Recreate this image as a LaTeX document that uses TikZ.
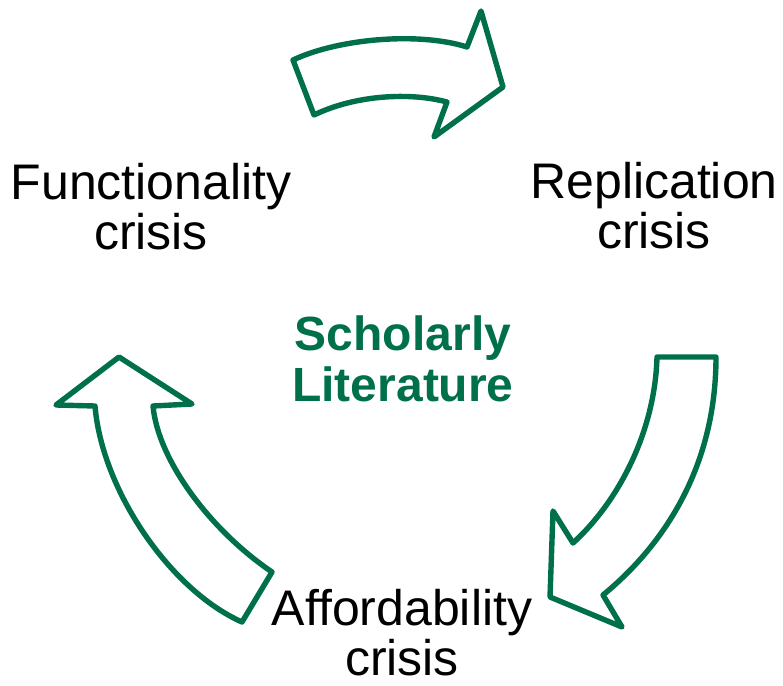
\documentclass[tikz,border=0pt]{standalone}
\usepackage{fontspec}
\setmainfont{Liberation Sans}
\definecolor{litgreen}{RGB}{0,112,74}
\begin{document}
\begin{tikzpicture}[x=1bp,y=-1bp,
    crisis/.style={align=center,anchor=base,inner sep=0pt,
      font=\fontsize{50bp}{50bp}\selectfont},
    core/.style={crisis,text=litgreen,
      font=\fontsize{48bp}{51bp}\selectfont\bfseries},
    cyclearrow/.style={draw=litgreen,line width=5.4bp,line join=round,fill=white}]
      \useasboundingbox (0,0) rectangle (783,686);
      \node[crisis] (functionality) at (151,249) {Functionality\\crisis};
      \node[crisis] (replication) at (654,248) {Replication\\crisis};
      \node[crisis] (affordability) at (402,675) {Affordability\\crisis};
      \node[core] (literature) at (403,401) {Scholarly\\Literature};
      \begin{scope}[cyclearrow]
        \draw (293,60) .. controls (340,38) and (420,32) .. (467,47)
          -- (481,11) -- (503,87) -- (434,137) -- (447,102)
          .. controls (410,92) and (355,95) .. (314,115) -- cycle;
        \draw (657,357) -- (716,357)
          .. controls (716,460) and (670,540) .. (603,595)
          -- (622,627) -- (550,597) -- (553,511) -- (573,543)
          .. controls (620,500) and (655,430) .. (657,357) -- cycle;
        \draw (119,357) -- (192,404) -- (153,406)
          .. controls (158,460) and (210,530) .. (272,572)
          -- (242,622) .. controls (170,590) and (102,490) .. (95,406)
          -- (56,405) -- cycle;
      \end{scope}
    \end{tikzpicture}
\end{document}
